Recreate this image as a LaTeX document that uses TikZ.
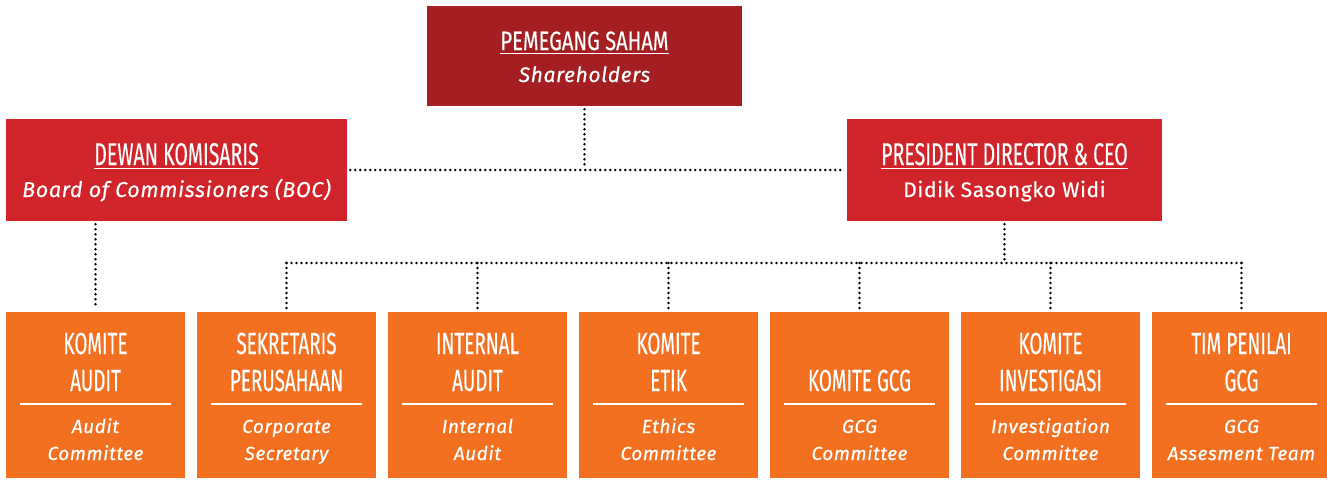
\documentclass[tikz,border=0pt]{standalone}
\usepackage{fontspec}
\setmainfont{Fira Sans}
\newfontfamily\narrowfont{Fira Sans}[FakeStretch=0.62, FakeBold=0.3]
\newfontfamily\widefont{Fira Sans}[FakeStretch=0.76, FakeBold=0.3]
\newfontfamily\spacedfont{Fira Sans}[LetterSpace=3, FakeBold=0.5]
\definecolor{shred}{HTML}{A51E22}
\definecolor{bocred}{HTML}{D1232A}
\definecolor{unitorange}{HTML}{F37021}
\newcommand{\undl}[1]{\vtop{\hbox{#1}\kern2.5pt\hrule height 1.6pt}}
\tikzset{
	topbox/.style={fill=shred, inner sep=0pt, minimum width=315pt, minimum height=100pt},
	midbox/.style={fill=bocred, inner sep=0pt, minimum height=102pt},
	unitbox/.style={fill=unitorange, inner sep=0pt, minimum width=179pt, minimum height=166pt},
	txt/.style={text=white, inner sep=0pt, anchor=base},
	toptitle/.style={txt, font=\widefont\fontsize{26.5}{30}\selectfont},
	midtitle/.style={txt, font=\narrowfont\fontsize{31.5}{34}\selectfont},
	unittitle/.style={txt, font=\narrowfont\fontsize{30.5}{34}\selectfont},
	topsub/.style={txt, font=\spacedfont\itshape\fontsize{21}{24}\selectfont},
	midsub/.style={txt, font=\spacedfont\itshape\fontsize{21.5}{24}\selectfont},
	namesub/.style={txt, font=\spacedfont\fontsize{21}{24}\selectfont},
	unitsub/.style={txt, font=\spacedfont\itshape\fontsize{19}{22}\selectfont},
	unitrule/.style={white, line width=1.5pt},
	dotline/.style={line width=2.8pt, line cap=round, dash pattern=on 0pt off 5pt, shorten <=3pt, shorten >=3pt}
}
\begin{document}
\begin{tikzpicture}[x=1pt,y=-1pt]
	\useasboundingbox (0,0) rectangle (1327,479);
	
	% top level
	\node[topbox] (sh) at (584.5,56) {};
	\node[toptitle] (shT) at (584.5,50) {\undl{PEMEGANG SAHAM}};
	\node[topsub] (shS) at (584.5,82) {Shareholders};
	
	\node[midbox, minimum width=341pt] (boc) at (176.5,170) {};
	\node[midtitle] (bocT) at (176.5,165) {\undl{DEWAN KOMISARIS}};
	\node[midsub] (bocS) at (176.5,197) {Board of Commissioners (BOC)};
	
	\node[midbox, minimum width=315pt] (ceo) at (1004.5,170) {};
	\node[midtitle] (ceoT) at (1004.5,165) {\undl{PRESIDENT DIRECTOR \& CEO}};
	\node[namesub] (ceoS) at (1004.5,197) {Didik Sasongko Widi};
	
	% units
	\node[unitbox] (audit) at (95.5,395) {};
	\node[unittitle] (auditA) at (95.5,354) {KOMITE};
	\node[unittitle] (auditB) at (95.5,391) {AUDIT};
	\draw[unitrule] (20,404) -- (171,404);
	\node[unitsub] (auditC) at (95.5,433) {Audit};
	\node[unitsub] (auditD) at (95.5,460) {Committee};
	
	\node[unitbox] (sekre) at (286.5,395) {};
	\node[unittitle] (sekreA) at (286.5,354) {SEKRETARIS};
	\node[unittitle] (sekreB) at (286.5,391) {PERUSAHAAN};
	\draw[unitrule] (211,404) -- (362,404);
	\node[unitsub] (sekreC) at (286.5,433) {Corporate};
	\node[unitsub] (sekreD) at (286.5,460) {Secretary};
	
	\node[unitbox] (intaud) at (477.5,395) {};
	\node[unittitle] (intaudA) at (477.5,354) {INTERNAL};
	\node[unittitle] (intaudB) at (477.5,391) {AUDIT};
	\draw[unitrule] (402,404) -- (553,404);
	\node[unitsub] (intaudC) at (477.5,433) {Internal};
	\node[unitsub] (intaudD) at (477.5,460) {Audit};
	
	\node[unitbox] (etik) at (668.5,395) {};
	\node[unittitle] (etikA) at (668.5,354) {KOMITE};
	\node[unittitle] (etikB) at (668.5,391) {ETIK};
	\draw[unitrule] (593,404) -- (744,404);
	\node[unitsub] (etikC) at (668.5,433) {Ethics};
	\node[unitsub] (etikD) at (668.5,460) {Committee};
	
	\node[unitbox] (gcg) at (859.5,395) {};
	\node[unittitle] (gcgB) at (859.5,391) {KOMITE GCG};
	\draw[unitrule] (784,404) -- (935,404);
	\node[unitsub] (gcgC) at (859.5,433) {GCG};
	\node[unitsub] (gcgD) at (859.5,460) {Committee};
	
	\node[unitbox] (invest) at (1050.5,395) {};
	\node[unittitle] (investA) at (1050.5,354) {KOMITE};
	\node[unittitle] (investB) at (1050.5,391) {INVESTIGASI};
	\draw[unitrule] (975,404) -- (1126,404);
	\node[unitsub] (investC) at (1050.5,433) {Investigation};
	\node[unitsub] (investD) at (1050.5,460) {Committee};
	
	\node[unitbox] (tim) at (1241.5,395) {};
	\node[unittitle] (timA) at (1241.5,354) {TIM PENILAI};
	\node[unittitle] (timB) at (1241.5,391) {GCG};
	\draw[unitrule] (1166,404) -- (1317,404);
	\node[unitsub] (timC) at (1241.5,433) {GCG};
	\node[unitsub] (timD) at (1241.5,460) {Assesment Team};
	
	% dotted connectors
	\draw[dotline] (sh.south) -- (sh.south |- boc.east);
	\draw[dotline] (boc.east) -- (ceo.west);
	\draw[dotline] (audit.north |- boc.south) -- (audit.north);
	\coordinate (bus) at (1004.5,263);
	\draw[dotline] (ceo.south) -- (bus);
	\draw[dotline, shorten <=0pt, shorten >=0pt] (sekre.north |- bus) -- (tim.north |- bus);
	\draw[dotline, shorten <=0pt] (sekre.north |- bus) -- (sekre.north);
	\draw[dotline, shorten <=0pt] (intaud.north |- bus) -- (intaud.north);
	\draw[dotline, shorten <=0pt] (etik.north |- bus) -- (etik.north);
	\draw[dotline, shorten <=0pt] (gcg.north |- bus) -- (gcg.north);
	\draw[dotline, shorten <=0pt] (invest.north |- bus) -- (invest.north);
	\draw[dotline, shorten <=0pt] (tim.north |- bus) -- (tim.north);
\end{tikzpicture}
\end{document}
